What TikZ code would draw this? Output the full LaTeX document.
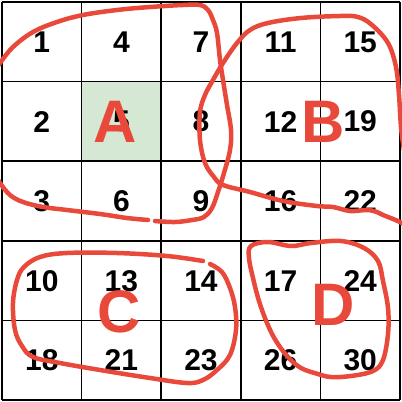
\documentclass[tikz,border=0pt]{standalone}
\usepackage{fontspec}
\setmainfont{Liberation Sans}
\usepackage{xcolor}
\usetikzlibrary{positioning}

\definecolor{penred}{HTML}{E8493A}
\definecolor{cellgreen}{HTML}{D5E8D4}

\begin{document}
\begin{tikzpicture}[x=1pt, y=-1pt,
      num/.style={inner sep=0pt, font=\fontsize{30}{30}\selectfont\bfseries},
      tag/.style={inner sep=0pt, text=penred, font=\fontsize{60}{60}\selectfont\bfseries},
      gridline/.style={line width=1.6pt, black},
      loop/.style={line width=4.5pt, penred, line cap=round, line join=round}]
  \useasboundingbox (0,0) rectangle (402,402);
  % highlighted cell
  \fill[cellgreen] (81.6,81.6) rectangle (161.2,161.2);
  % grid
  \foreach \i in {0,...,5} {
    \draw[gridline] (2+79.6*\i,2) -- (2+79.6*\i,400);
    \draw[gridline] (2,2+79.6*\i) -- (400,2+79.6*\i);
  }
  % numbers, column by column
  \foreach \v [count=\k from 0] in {1,2,3,10,18, 4,5,6,13,21, 7,8,9,14,23,
                                     11,12,16,17,26, 15,19,22,24,30} {
    \pgfmathtruncatemacro{\col}{int(\k/5)}
    \pgfmathtruncatemacro{\row}{mod(\k,5)}
    \node[num] (n\v) at (41.8+79.6*\col, 42+79.6*\row) {\v};
  }
  % hand drawn groups
  \begin{scope}
    \clip (0,0) rectangle (402,402);
    % A
    \draw[loop] plot[smooth, tension=0.6] coordinates {(-6,72) (0,63) (13,47) (33,32)
      (57,22) (83,15) (117,10) (150,7) (183,5) (200,5) (208,10) (213,20)
      (217,33) (220,60) (223,80) (227,105) (231,130) (230,150) (224,173)
      (218,192) (212,208) (204,217) (192,220) (175,222) (155,221)};
    \draw[loop] plot[smooth, tension=0.6] coordinates {(148,220) (127,218) (100,214)
      (67,210) (43,207) (23,202) (10,195) (0,183) (-5,174)};
    % B
    \draw[loop] plot[smooth, tension=0.6] coordinates {(408,228) (400,222) (383,215)
      (377,212) (367,210) (350,211) (333,207) (317,206) (283,201) (250,192)
      (223,185) (214,177) (205,163) (200,140) (200,112) (205,95) (213,80)
      (223,63) (237,43) (250,30) (268,23) (301,18) (340,16) (358,17) (372,25)
      (388,43) (396,67) (399,95) (401,127) (404,150)};
    % C
    \draw[loop] plot[smooth, tension=0.6] coordinates {(210,264) (222,272) (230,288)
      (235,307) (236,330) (230,355) (217,370) (203,380) (187,383) (150,378)
      (100,370) (60,363) (33,357) (22,346) (15,330) (13,303) (17,280)
      (24,267) (40,257) (67,253) (117,253) (167,256) (203,261)};
    % D
    \draw[loop] plot[smooth cycle, tension=0.6] coordinates {(251,246) (268,242)
      (291,246) (311,243) (341,241) (364,248) (378,261) (383,281) (388,308)
      (388,334) (383,360) (373,371) (351,376) (331,377) (318,374) (301,368)
      (288,357) (276,341) (267,323) (259,301) (253,278) (249,258)};
  \end{scope}
  % group letters
  \node[tag] (A) at (115,122) {A};
  \node[tag] (B) at (323,122) {B};
  \node[tag] (C) at (119,312) {C};
  \node[tag] (D) at (333,305) {D};
\end{tikzpicture}
\end{document}
